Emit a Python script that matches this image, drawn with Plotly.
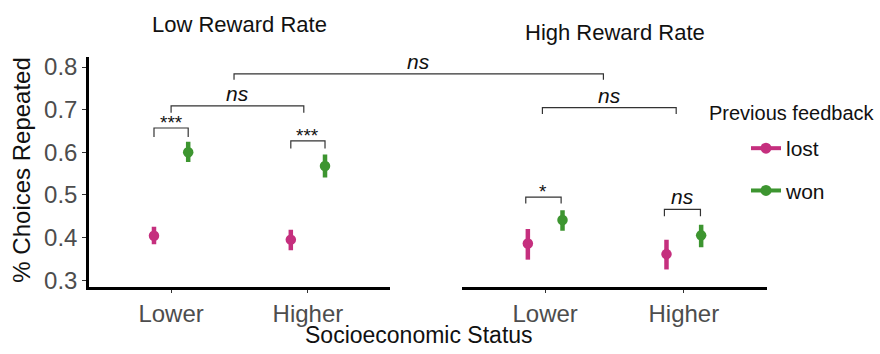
import plotly.graph_objects as go

# ---- data ----
panels = ["Low Reward Rate", "High Reward Rate"]
ses_labels = ["Lower", "Higher"]
feedback = ["lost", "won"]

low_lost_mean = [0.404, 0.395]
low_lost_lo = [0.384, 0.370]
low_lost_hi = [0.425, 0.418]
low_won_mean = [0.600, 0.568]
low_won_lo = [0.577, 0.541]
low_won_hi = [0.625, 0.595]

high_lost_mean = [0.386, 0.361]
high_lost_lo = [0.348, 0.325]
high_lost_hi = [0.420, 0.395]
high_won_mean = [0.441, 0.405]
high_won_lo = [0.416, 0.377]
high_won_hi = [0.464, 0.430]

colors = {"lost": "#C52F7E", "won": "#3D9530"}

# brackets: (x_start, x_end, y_top, y_leg, label)
low_brackets = [(0.875, 1.125, 0.657, 0.636, "***"),
                (1.875, 2.125, 0.627, 0.609, "***"),
                (1.0, 1.97, 0.709, 0.693, "ns")]
high_brackets = [(0.86, 1.115, 0.495, 0.480, "*"),
                 (1.86, 2.12, 0.466, 0.450, "ns"),
                 (0.98, 1.945, 0.705, 0.690, "ns")]
cross_bracket = (1.46, 1.42, 0.784, 0.770, "ns")  # left-panel x, right-panel x

W, H = 880, 354
FONT = "Liberation Sans, Arial, Helvetica, sans-serif"

def PX(x):
    return x / W

def PY(y):
    return 1 - y / H

xdom1 = [PX(89), PX(390)]
xdom2 = [PX(462), PX(767)]
ydom = [PY(292), PY(55)]
xr = [0.4, 2.6]
yr = [0.284, 0.823]
dodge = 0.125

fig = go.Figure()

def add_points(xa, ya, means, los, his, name, offset):
    xs = [i + 1 + offset for i in range(len(means))]
    fig.add_trace(go.Scatter(
        x=xs, y=means, mode="markers", xaxis=xa, yaxis=ya,
        marker=dict(color=colors[name], size=10.5),
        error_y=dict(type="data", symmetric=False,
                     array=[h - m for h, m in zip(his, means)],
                     arrayminus=[m - l for m, l in zip(means, los)],
                     color=colors[name], thickness=4.5, width=0),
        showlegend=False, hoverinfo="skip"))

add_points("x", "y", low_lost_mean, low_lost_lo, low_lost_hi, "lost", -dodge)
add_points("x", "y", low_won_mean, low_won_lo, low_won_hi, "won", dodge)
add_points("x2", "y2", high_lost_mean, high_lost_lo, high_lost_hi, "lost", -dodge)
add_points("x2", "y2", high_won_mean, high_won_lo, high_won_hi, "won", dodge)

# legend entries
for i, name in enumerate(feedback):
    fig.add_trace(go.Scatter(
        x=[None], y=[None], mode="lines+markers", name=name,
        legendgroup=name,
        marker=dict(color=colors[name], size=11),
        line=dict(color=colors[name], width=4),
        xaxis="x", yaxis="y"))

bracket_line = dict(color="#333333", width=1.2)

def add_bracket(xref, yref, b):
    x0, x1, yt, yl, lab = b
    fig.add_shape(type="path", xref=xref, yref=yref,
                  path=f"M {x0} {yl} L {x0} {yt} L {x1} {yt} L {x1} {yl}",
                  line=bracket_line)
    italic = lab == "ns"
    fig.add_annotation(x=(x0 + x1) / 2, y=yt, xref=xref, yref=yref,
                       text=f"<i>{lab}</i>" if italic else lab,
                       showarrow=False, xanchor="center", yanchor="bottom",
                       yshift=-1 if italic else -7,
                       font=dict(family=FONT, size=21 if italic else 19, color="#111111"))

for b in low_brackets:
    add_bracket("x", "y", b)
for b in high_brackets:
    add_bracket("x2", "y2", b)

def to_px(xv, dom):
    return dom[0] + (xv - xr[0]) / (xr[1] - xr[0]) * (dom[1] - dom[0])

def to_py(yv):
    return ydom[0] + (yv - yr[0]) / (yr[1] - yr[0]) * (ydom[1] - ydom[0])

cx0, cx1, cyt, cyl, clab = cross_bracket
px0, px1 = to_px(cx0, xdom1), to_px(cx1, xdom2)
fig.add_shape(type="path", xref="paper", yref="paper",
              path=f"M {px0} {to_py(cyl)} L {px0} {to_py(cyt)} L {px1} {to_py(cyt)} L {px1} {to_py(cyl)}",
              line=bracket_line)
fig.add_annotation(x=(px0 + px1) / 2, y=to_py(cyt), xref="paper", yref="paper",
                   text=f"<i>{clab}</i>", showarrow=False, xanchor="center",
                   yanchor="bottom", yshift=-1,
                   font=dict(family=FONT, size=21, color="#111111"))

# facet titles
fig.add_annotation(x=(xdom1[0] + xdom1[1]) / 2, y=PY(21), xref="paper", yref="paper",
                   text=panels[0], showarrow=False, xanchor="center", yanchor="middle",
                   font=dict(family=FONT, size=22, color="#111111"))
fig.add_annotation(x=(xdom2[0] + xdom2[1]) / 2, y=PY(29), xref="paper", yref="paper",
                   text=panels[1], showarrow=False, xanchor="center", yanchor="middle",
                   font=dict(family=FONT, size=22, color="#111111"))

# axis titles
fig.add_annotation(x=PX(419), y=PY(342), xref="paper", yref="paper",
                   text="Socioeconomic Status", showarrow=False,
                   xanchor="center", yanchor="middle",
                   font=dict(family=FONT, size=23, color="#111111"))
fig.add_annotation(x=PX(22), y=PY(172), xref="paper", yref="paper",
                   text="% Choices Repeated", showarrow=False, textangle=-90,
                   xanchor="center", yanchor="middle",
                   font=dict(family=FONT, size=24, color="#111111"))

# legend title
fig.add_annotation(x=PX(707), y=PY(112), xref="paper", yref="paper",
                   text="Previous feedback", showarrow=False,
                   xanchor="left", yanchor="middle",
                   font=dict(family=FONT, size=20, color="#111111"))

xcommon = dict(range=xr, tickvals=[1, 2], ticktext=ses_labels, showgrid=False,
               zeroline=False, showline=True, linecolor="black", linewidth=3,
               ticks="outside", ticklen=3, tickcolor="#333333",
               tickfont=dict(family=FONT, size=24, color="#4D4D4D"),
               fixedrange=True)
ycommon = dict(range=yr, showgrid=False, zeroline=False, fixedrange=True)

fig.update_layout(
    width=W, height=H,
    margin=dict(l=0, r=0, t=0, b=0),
    paper_bgcolor="white", plot_bgcolor="white",
    xaxis=dict(domain=xdom1, anchor="y", **xcommon),
    xaxis2=dict(domain=xdom2, anchor="y2", **xcommon),
    yaxis=dict(domain=ydom, anchor="x", showline=True, linecolor="black", linewidth=2.5,
               tickvals=[0.3, 0.4, 0.5, 0.6, 0.7, 0.8], ticktext=["0.3", "0.4", "0.5", "0.6", "0.7", "0.8"],
               ticks="outside", ticklen=4, tickcolor="#333333",
               tickfont=dict(family=FONT, size=24, color="#4D4D4D"), **ycommon),
    yaxis2=dict(domain=ydom, anchor="x2", showline=False, showticklabels=False,
                ticks="", **ycommon),
    showlegend=True,
    legend=dict(x=PX(746), y=PY(128), xanchor="left", yanchor="top",
                font=dict(family=FONT, size=21, color="#111111"),
                tracegroupgap=12, bgcolor="rgba(0,0,0,0)"),
)

fig.write_html("out.html", config={"displayModeBar": False},
               post_script="document.body.style.margin='0';document.body.style.overflow='hidden';")
